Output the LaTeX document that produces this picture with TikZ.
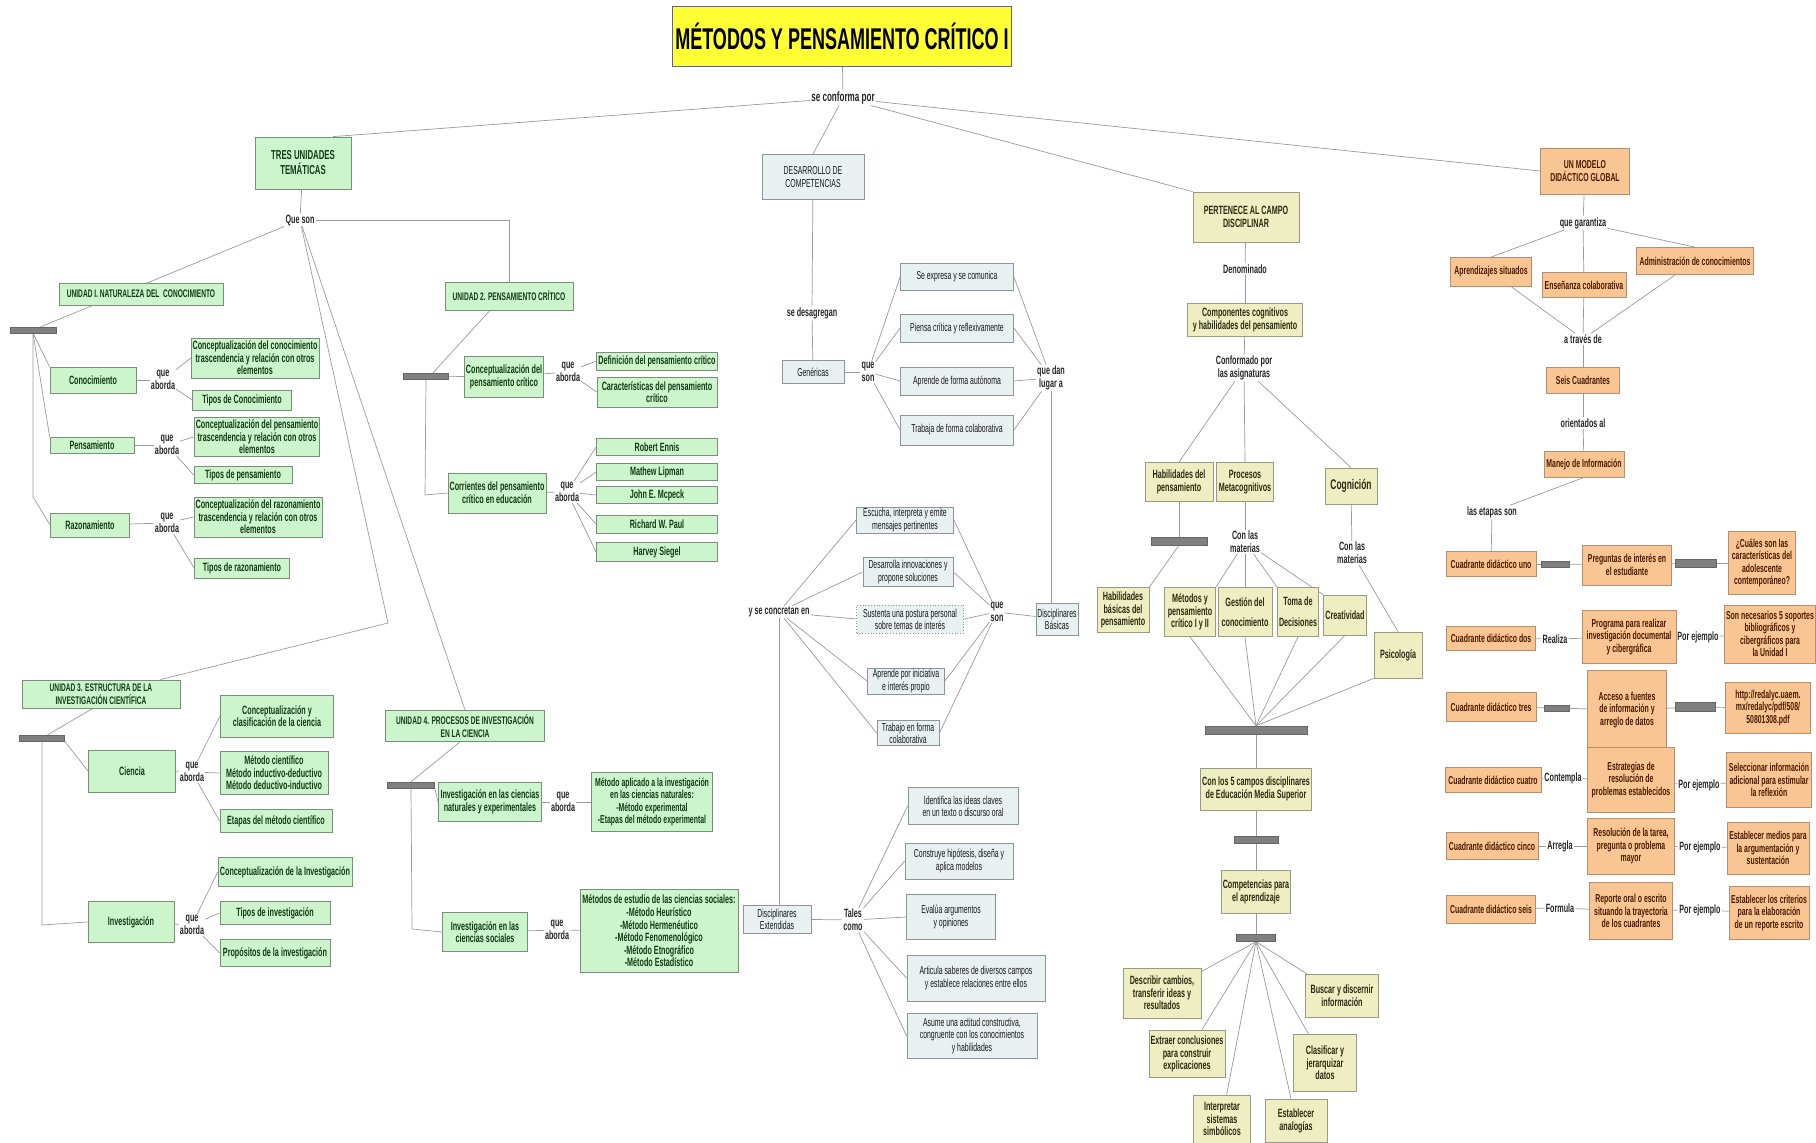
\documentclass[tikz,border=0pt]{standalone}
\usepackage{fontspec}
\setmainfont{Liberation Sans}[FakeStretch=0.6]
\definecolor{gfill}{HTML}{CCF5CC}
\definecolor{gdraw}{HTML}{7A8F7A}
\definecolor{gtext}{HTML}{123A12}
\definecolor{bfill}{HTML}{E8F0F2}
\definecolor{bdraw}{HTML}{8C9696}
\definecolor{yfill}{HTML}{EEEEC2}
\definecolor{ydraw}{HTML}{9A9A80}
\definecolor{ytext}{HTML}{2A2A10}
\definecolor{ofill}{HTML}{F9C593}
\definecolor{odraw}{HTML}{B09070}
\definecolor{otext}{HTML}{4A1A00}
\definecolor{lnk}{HTML}{9A9A9A}
\definecolor{barc}{HTML}{808080}
\definecolor{titfill}{HTML}{FFFF33}
\pgfdeclarelayer{bgl}
\pgfdeclarelayer{lnl}
\pgfsetlayers{bgl,lnl,main}
\newcommand\bx[7]{\node[#6,minimum width=#4pt,minimum height=#5pt] (#1) at (#2,#3) {#7};}
\tikzset{
 every node/.style={font=\bfseries\fontsize{12}{12.6}\selectfont, align=center, inner sep=1.5pt},
 gbox/.style={draw=gdraw, fill=gfill, text=gtext, line width=0.8pt},
 utit/.style={gbox, font=\bfseries\fontsize{11}{13}\selectfont},
 bbox/.style={draw=bdraw, fill=bfill, text=black!90, line width=0.8pt, font=\fontsize{11.5}{12.2}\selectfont},
 ybox/.style={draw=ydraw, fill=yfill, text=ytext, line width=0.8pt},
 obox/.style={draw=odraw, fill=ofill, text=otext, line width=0.8pt, font=\bfseries\fontsize{11.5}{12.4}\selectfont},
 lab/.style={text=black!85, font=\bfseries\fontsize{12}{13}\selectfont, inner sep=1pt},
 barn/.style={fill=barc, draw=barc!80!black, minimum height=6pt, inner sep=0pt},
 con/.style={draw=lnk, line width=0.7pt},
 tbox/.style={draw=black!60, fill=titfill, line width=0.8pt, font=\bfseries\fontsize{30}{32}\selectfont},
}
\begin{document}
\begin{tikzpicture}[x=1pt,y=-1pt]
\useasboundingbox (0,0) rectangle (1816,1143);
% ---------- title
\bx{title}{842}{36}{339}{60}{tbox}{MÉTODOS Y PENSAMIENTO CRÍTICO I}
\node[lab,font=\bfseries\fontsize{13.5}{14}\selectfont] (conf) at (843,98) {se conforma por};
% ---------- green
\bx{tres}{303}{163}{96}{52}{gbox,font=\bfseries\fontsize{13}{15}\selectfont}{TRES UNIDADES\\TEMÁTICAS}
\node[lab] (queson) at (300,220) {Que son};
\bx{u1}{141}{294}{164}{22}{utit}{UNIDAD I. NATURALEZA DEL\ \ CONOCIMIENTO}
\node[barn, minimum width=46pt] (b1) at (33,330) {};
\bx{con}{93}{380}{86}{26}{gbox}{Conocimiento}
\node[lab] (qa1) at (163,380) {que\\aborda};
\bx{c1a}{255}{358}{126}{40}{gbox}{Conceptualización del conocimiento\\trascendencia y relación con otros\\elementos}
\bx{c1b}{242}{400}{99}{20}{gbox}{Tipos de Conocimiento}
\bx{pen}{92}{445}{84}{16}{gbox}{Pensamiento}
\node[lab] (qa2) at (167,445) {que\\aborda};
\bx{p1a}{257}{437}{125}{39}{gbox}{Conceptualización del pensamiento\\trascendencia y relación con otros\\elementos}
\bx{p1b}{243}{475}{98}{17}{gbox}{Tipos de pensamiento}
\bx{raz}{90}{525}{79}{24}{gbox}{Razonamiento}
\node[lab] (qa3) at (167,523) {que\\aborda};
\bx{r1a}{258}{517}{128}{40}{gbox}{Conceptualización del razonamiento\\trascendencia y relación con otros\\elementos}
\bx{r1b}{242}{568}{95}{20}{gbox}{Tipos de razonamiento}
% unit 2
\bx{u2}{509}{296}{128}{28}{utit}{UNIDAD 2. PENSAMIENTO CRÍTICO}
\node[barn, minimum width=45pt] (b2) at (426,376) {};
\bx{cpc}{504}{377}{78}{41}{gbox}{Conceptualización del\\pensamiento crítico}
\node[lab] (qa4) at (568,372) {que\\aborda};
\bx{def}{657}{361}{120}{18}{gbox}{Definición del pensamiento crítico}
\bx{car}{657}{392}{120}{30}{gbox}{Características del pensamiento\\crítico}
\bx{cor}{497}{493}{97}{40}{gbox}{Corrientes del pensamiento\\crítico en educación}
\node[lab] (qa5) at (567,492) {que\\aborda};
\bx{a1}{657}{447}{121}{17}{gbox}{Robert Ennis}
\bx{a2}{657}{472}{121}{17}{gbox}{Mathew Lipman}
\bx{a3}{657}{495}{121}{17}{gbox}{John E. Mcpeck}
\bx{a4}{657}{524}{121}{18}{gbox}{Richard W. Paul}
\bx{a5}{657}{552}{121}{19}{gbox}{Harvey Siegel}
% unit 3
\bx{u3}{101}{694}{158}{28}{utit}{UNIDAD 3. ESTRUCTURA DE LA\\INVESTIGACIÓN CIENTÍFICA}
\node[barn, minimum width=45pt] (b3) at (42,738) {};
\bx{cie}{132}{771}{87}{42}{gbox}{Ciencia}
\node[lab] (qa6) at (192,772) {que\\aborda};
\bx{ci1}{277}{716}{113}{42}{gbox}{Conceptualización y\\clasificación de la ciencia}
\bx{ci2}{274}{773}{108}{43}{gbox}{Método científico\\Método inductivo-deductivo\\Método deductivo-inductivo}
\bx{ci3}{276}{821}{112}{23}{gbox}{Etapas del método científico}
\bx{inv}{131}{922}{86}{41}{gbox}{Investigación}
\node[lab] (qa7) at (192,925) {que\\aborda};
\bx{in1}{285}{872}{134}{29}{gbox}{Conceptualización de la Investigación}
\bx{in2}{275}{913}{110}{23}{gbox}{Tipos de investigación}
\bx{in3}{275}{953}{110}{27}{gbox}{Propósitos de la investigación}
% unit 4
\bx{u4}{465}{726}{159}{31}{utit}{UNIDAD 4. PROCESOS DE INVESTIGACIÓN\\EN LA CIENCIA}
\node[barn, minimum width=47pt] (b4) at (411,785) {};
\bx{icn}{490}{802}{103}{39}{gbox}{Investigación en las ciencias\\naturales y experimentales}
\node[lab] (qa8) at (563,802) {que\\aborda};
\bx{icn2}{652}{802}{121}{59}{gbox,font=\bfseries\fontsize{11.5}{12.6}\selectfont}{Método aplicado a la investigación\\en las ciencias naturales:\\-Método experimental\\-Etapas del método experimental}
\bx{ics}{485}{932}{85}{39}{gbox}{Investigación en las\\ciencias sociales}
\node[lab] (qa9) at (557,930) {que\\aborda};
\bx{ics2}{659}{931}{158}{83}{gbox}{Métodos de estudio de las ciencias sociales:\\-Método Heurístico\\-Método Hermenéutico\\-Método Fenomenológico\\-Método Etnográfico\\-Método Estadístico}
% ---------- blue
\bx{des}{813}{177}{102}{45}{bbox}{DESARROLLO DE\\COMPETENCIAS}
\node[lab] (desag) at (812,313) {se desagregan};
\bx{gen}{813}{372}{62}{23}{bbox}{Genéricas}
\node[lab] (qs1) at (868,372) {que\\son};
\bx{g1}{957}{277}{113}{27}{bbox}{Se expresa y se comunica}
\bx{g2}{957}{328}{113}{28}{bbox}{Piensa crítica y reflexivamente}
\bx{g3}{957}{381}{113}{28}{bbox}{Aprende de forma autónoma}
\bx{g4}{957}{430}{113}{30}{bbox}{Trabaja de forma colaborativa}
\node[lab] (qdl) at (1051,378) {que dan\\lugar a};
\node[lab] (ysc) at (779,612) {y se concretan en};
\bx{h1}{905}{520}{97}{25}{bbox}{Escucha, interpreta y emite\\mensajes pertinentes}
\bx{h2}{908}{572}{90}{29}{bbox}{Desarrolla innovaciones y\\propone soluciones}
\bx{h3}{910}{619}{107}{28}{bbox,dotted}{Sustenta una postura personal\\sobre temas de interés}
\bx{h4}{906}{681}{77}{23}{bbox}{Aprende por iniciativa\\e interés propio}
\bx{h5}{908}{733}{62}{25}{bbox}{Trabajo en forma\\colaborativa}
\node[lab] (qs2) at (997,612) {que\\son};
\bx{dbas}{1057}{619}{42}{32}{bbox}{Disciplinares\\Básicas}
\bx{dext}{777}{919}{68}{28}{bbox}{Disciplinares\\Extendidas}
\node[lab] (tc) at (853,920) {Tales\\como};
\bx{e1}{963}{806}{110}{37}{bbox}{Identifica las ideas claves\\en un texto o discurso oral}
\bx{e2}{959}{861}{108}{36}{bbox}{Construye hipótesis, diseña y\\aplica modelos}
\bx{e3}{951}{917}{89}{45}{bbox}{Evalúa argumentos\\y opiniones}
\bx{e4}{976}{978}{138}{46}{bbox}{Articula saberes de diversos campos\\y establece relaciones entre ellos}
\bx{e5}{972}{1036}{130}{45}{bbox}{Asume una actitud constructiva,\\congruente con los conocimientos\\y habilidades}
% ---------- beige
\bx{per}{1246}{217}{106}{50}{ybox}{PERTENECE AL CAMPO\\DISCIPLINAR}
\node[lab] (den) at (1245,269) {Denominado};
\bx{comp}{1245}{320}{115}{33}{ybox}{Componentes cognitivos\\y habilidades del pensamiento}
\node[lab] (confp) at (1244,368) {Conformado por\\las asignaturas};
\bx{hab}{1179}{482}{68}{39}{ybox}{Habilidades del\\pensamiento}
\bx{pro}{1245}{482}{57}{39}{ybox}{Procesos\\Metacognitivos}
\bx{cog}{1351}{486}{52}{36}{ybox,font=\bfseries\fontsize{14}{16}\selectfont}{Cognición}
\node[barn, minimum width=56pt, minimum height=8pt] (b5) at (1179,541) {};
\node[lab] (cm1) at (1245,542) {Con las\\materias};
\node[lab] (cm2) at (1352,553) {Con las\\materias};
\bx{hbp}{1123}{610}{52}{45}{ybox}{Habilidades\\básicas del\\pensamiento}
\bx{met}{1190}{612}{51}{49}{ybox}{Métodos y\\pensamiento\\crítico I y II}
\bx{ges}{1245}{612}{54}{49}{ybox}{Gestión del\\[8pt]conocimiento}
\bx{tom}{1298}{612}{41}{49}{ybox}{Toma de\\[8pt]Decisiones}
\bx{cre}{1345}{615}{43}{40}{ybox}{Creatividad}
\bx{psi}{1398}{655}{48}{46}{ybox}{Psicología}
\node[barn, minimum width=102pt, minimum height=8pt] (b6) at (1256,730) {};
\bx{c5}{1256}{789}{109}{42}{ybox}{Con los 5 campos disciplinares\\de Educación Media Superior}
\node[barn, minimum width=44pt, minimum height=7pt] (b7) at (1256,840) {};
\bx{cpa}{1256}{892}{68}{43}{ybox}{Competencias para\\el aprendizaje}
\node[barn, minimum width=39pt, minimum height=7pt] (b8) at (1256,938) {};
\bx{f1}{1162}{993}{78}{50}{ybox}{Describir cambios,\\transferir ideas y\\resultados}
\bx{f2}{1187}{1054}{76}{47}{ybox}{Extraer conclusiones\\para construir\\explicaciones}
\bx{f3}{1222}{1119}{57}{48}{ybox}{Interpretar\\sistemas\\simbólicos}
\bx{f4}{1296}{1121}{62}{43}{ybox}{Establecer\\analogías}
\bx{f5}{1325}{1063}{63}{57}{ybox}{Clasificar y\\jerarquizar\\datos}
\bx{f6}{1342}{996}{73}{43}{ybox}{Buscar y discernir\\información}
% ---------- orange
\bx{mod}{1585}{171}{89}{46}{obox}{UN MODELO\\DIDÁCTICO GLOBAL}
\node[lab] (qg) at (1583,223) {que garantiza};
\bx{apr}{1491}{272}{81}{29}{obox}{Aprendizajes situados}
\bx{ens}{1584}{285}{84}{25}{obox}{Enseñanza colaborativa}
\bx{adm}{1695}{261}{117}{27}{obox}{Administración de conocimientos}
\node[lab] (atr) at (1583,339) {a través de};
\bx{seis}{1583}{380}{73}{26}{obox}{Seis Cuadrantes}
\node[lab] (ori) at (1583,423) {orientados al};
\bx{man}{1584}{464}{80}{26}{obox}{Manejo de Información}
\node[lab] (eta) at (1492,512) {las etapas son};
\bx{q1}{1491}{564}{90}{25}{obox}{Cuadrante didáctico uno}
\node[barn, minimum width=28pt] (ob1a) at (1555,564) {};
\bx{q1b}{1627}{565}{89}{40}{obox}{Preguntas de interés en\\el estudiante}
\node[barn, minimum width=41pt, minimum height=8pt] (ob1b) at (1696,563) {};
\bx{q1c}{1762}{563}{67}{63}{obox}{¿Cuáles son las\\características del\\adolescente\\contemporáneo?}
\bx{q2}{1491}{638}{89}{24}{obox}{Cuadrante didáctico dos}
\node[lab] (rea) at (1555,639) {Realiza};
\bx{q2b}{1629}{637}{94}{53}{obox}{Programa para realizar\\investigación documental\\y cibergráfica}
\node[lab] (pe2) at (1698,637) {Por ejemplo};
\bx{q2c}{1770}{634}{91}{58}{obox}{Son necesarios 5 soportes\\bibliográficos y\\cibergráficos para\\la Unidad I}
\bx{q3}{1491}{707}{90}{29}{obox}{Cuadrante didáctico tres}
\node[barn, minimum width=25pt] (ob3a) at (1557,708) {};
\bx{q3b}{1627}{710}{79}{80}{obox}{Acceso a fuentes\\de información y\\arreglo de datos}
\node[barn, minimum width=40pt, minimum height=9pt] (ob3b) at (1695,707) {};
\bx{q3c}{1768}{708}{85}{51}{obox}{http://redalyc.uaem.\\mx/redalyc/pdf/508/\\50801308.pdf}
\bx{q4}{1493}{780}{96}{25}{obox}{Cuadrante didáctico cuatro}
\node[lab] (cont) at (1563,778) {Contempla};
\bx{q4b}{1631}{780}{87}{65}{obox}{Estrategias de\\resolución de\\problemas establecidos}
\node[lab] (pe4) at (1699,785) {Por ejemplo};
\bx{q4c}{1769}{780}{85}{55}{obox}{Seleccionar información\\adicional para estimular\\la reflexión}
\bx{q5}{1492}{846}{92}{27}{obox}{Cuadrante didáctico cinco}
\node[lab] (arr) at (1560,846) {Arregla};
\bx{q5b}{1631}{846}{87}{56}{obox}{Resolución de la tarea,\\pregunta o problema\\mayor}
\node[lab] (pe5) at (1700,847) {Por ejemplo};
\bx{q5c}{1768}{848}{82}{52}{obox}{Establecer medios para\\la argumentación y\\sustentación}
\bx{q6}{1491}{909}{89}{28}{obox}{Cuadrante didáctico seis}
\node[lab] (form) at (1560,908) {Formula};
\bx{q6b}{1631}{911}{83}{57}{obox}{Reporte oral o escrito\\situando la trayectoria\\de los cuadrantes}
\node[lab] (pe6) at (1700,910) {Por ejemplo};
\bx{q6c}{1769}{913}{80}{53}{obox}{Establecer los criterios\\para la elaboración\\de un reporte escrito}
% bend points
\coordinate (k1) at (33,497);
\coordinate (k2) at (425,495);
\coordinate (k3) at (388,623);
\coordinate (k3b) at (42,925);
\coordinate (k4) at (412,929);
% ---------- connectors
\begin{pgfonlayer}{lnl}
\begin{scope}[con]
\draw (title) -- (conf);
\draw (conf) -- ([xshift=30pt]tres.north);
\draw (conf) -- (des.north);
\draw (conf) -- (per.north west);
\draw (conf) -- (mod.west);
% green
\draw (tres) -- (queson);
\draw (queson) -- (b1);
\draw (queson.east) -| (u2.north);
\draw (queson) -- (k3) -- ([xshift=-20pt]u3.north east);
\draw (queson) -- (u4.north);
\draw (b1.south) -- (con.north west);
\draw (b1.south) -- (pen.north west);
\draw (b1.south) -- (k1) -- (raz.west);
\draw (con) -- (qa1); \draw (qa1) -- (c1a.west); \draw (qa1) -- (c1b.west);
\draw (pen) -- (qa2); \draw (qa2) -- (p1a.west); \draw (qa2) -- (p1b.west);
\draw (raz) -- (qa3); \draw (qa3) -- (r1a.west); \draw (qa3) -- (r1b.west);
\draw ([xshift=-19pt]u2.south) -- ([xshift=7pt]b2.north);
\draw (b2) -- (cpc);
\draw (b2.south) -- (k2) -- (cor.west);
\draw (cpc) -- (qa4); \draw (qa4) -- (def.west); \draw (qa4) -- (car.west);
\draw (cor) -- (qa5);
\foreach \a in {a1,a2,a3,a4,a5} \draw (qa5) -- (\a.west);
\draw ([xshift=-8pt]u3.south) -- (b3);
\draw (b3.south east) -- (cie.west);
\draw (b3.south) -- (k3b) -- (inv.west);
\draw (cie) -- (qa6);
\foreach \a in {ci1,ci2,ci3} \draw (qa6) -- (\a.west);
\draw (inv) -- (qa7);
\foreach \a in {in1,in2,in3} \draw (qa7) -- (\a.west);
\draw ([xshift=-5pt]u4.south) -- (b4.north);
\draw (b4.south east) -- (icn.west);
\draw (b4.south) -- (k4) -- (ics.west);
\draw (icn) -- (qa8); \draw (qa8) -- (icn2);
\draw (ics) -- (qa9); \draw (qa9) -- (ics2);
% blue
\draw (des) -- (desag); \draw (desag) -- (gen);
\draw (gen) -- (qs1);
\foreach \a in {g1,g2,g3,g4} {\draw (qs1) -- (\a.west); \draw (\a.east) -- (qdl);}
\draw (qdl.south) -- (qdl.south |- dbas.north);
\foreach \a in {h1,h2,h3,h4,h5} {\draw (ysc) -- (\a.west); \draw (\a.east) -- (qs2);}
\draw (qs2) -- (dbas);
\draw (ysc.south) -- (ysc.south |- dext.north);
\draw (dext) -- (tc);
\foreach \a in {e1,e2,e3,e4,e5} \draw (tc) -- (\a.west);
% beige
\draw (per) -- (den); \draw (den) -- (comp); \draw (comp) -- (confp);
\draw (confp) -- (hab.north); \draw (confp) -- (pro.north); \draw (confp) -- (cog.north);
\draw (hab) -- (b5);
\draw (b5.south) -- (hbp.north east);
\draw (pro) -- (cm1);
\draw (cm1) -- (met.north east); \draw (cm1) -- (ges.north);
\draw (cm1) -- (tom.north west); \draw (cm1) -- (cre.north west);
\draw (cog) -- (cm2); \draw (cm2) -- (psi.north);
\foreach \a in {met,ges,tom,cre} \draw (\a.south) -- (b6.north);
\draw (psi.south west) -- (b6.north);
\draw (b6) -- (c5); \draw (c5) -- (b7); \draw (b7) -- (cpa); \draw (cpa) -- (b8);
\foreach \a in {f1,f2,f3,f4,f5,f6} \draw (b8.south) -- (\a);
% orange
\draw (mod) -- (qg);
\draw (qg) -- (apr.north); \draw (qg) -- (ens); \draw (qg) -- (adm.north);
\draw (ens) -- (atr); \draw (apr) -- (atr); \draw (adm) -- (atr);
\draw (atr) -- (seis); \draw (seis) -- (ori); \draw (ori) -- (man);
\draw (man.south) -- (eta); \draw (eta) -- (q1);
\draw (q1) -- (ob1a); \draw (ob1a) -- (q1b); \draw (q1b) -- (ob1b); \draw (ob1b) -- (q1c);
\draw (q2) -- (rea); \draw (rea) -- (q2b); \draw (q2b) -- (pe2); \draw (pe2) -- (q2c);
\draw (q3) -- (ob3a); \draw (ob3a) -- (q3b); \draw (q3b) -- (ob3b); \draw (ob3b) -- (q3c);
\draw (q4) -- (cont); \draw (cont) -- (q4b); \draw (q4b) -- (pe4); \draw (pe4) -- (q4c);
\draw (q5) -- (arr); \draw (arr) -- (q5b); \draw (q5b) -- (pe5); \draw (pe5) -- (q5c);
\draw (q6) -- (form); \draw (form) -- (q6b); \draw (q6b) -- (pe6); \draw (pe6) -- (q6c);
\end{scope}
\end{pgfonlayer}
\begin{pgfonlayer}{bgl}
\fill[white] (0,0) rectangle (1816,1143);
\end{pgfonlayer}
\end{tikzpicture}
\end{document}
